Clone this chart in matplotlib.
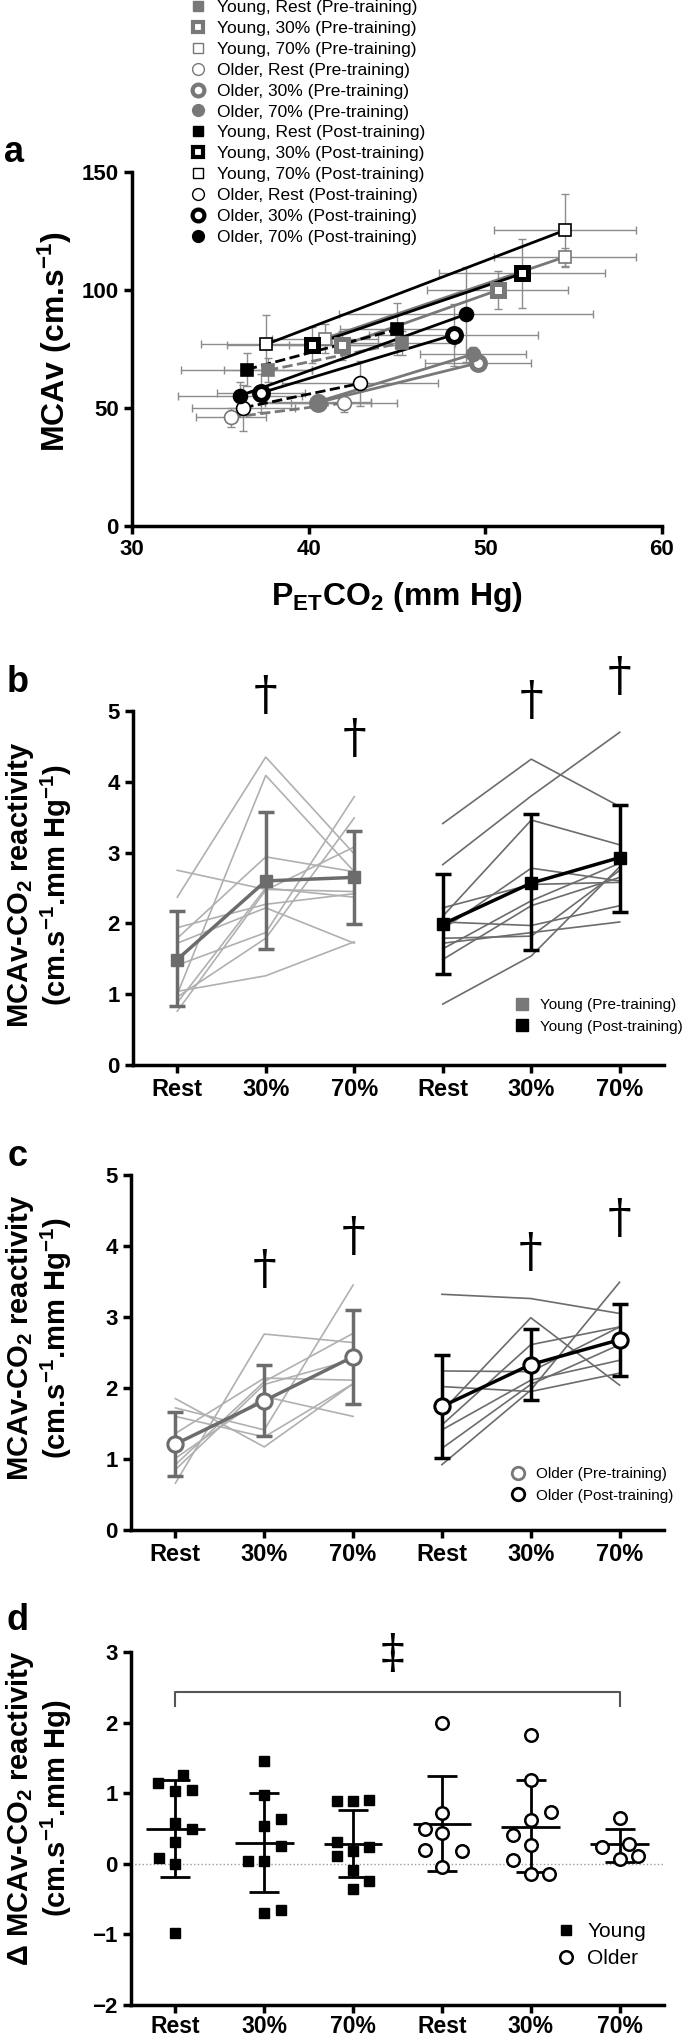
import numpy as np
import matplotlib.pyplot as plt
from matplotlib.lines import Line2D

plt.rcParams['font.family'] = ['Liberation Sans', 'DejaVu Sans']
plt.rcParams['mathtext.default'] = 'regular'

W, H = 697, 2039

# ---------------- data: panel a (MCAv vs PETCO2) ----------------
a_labels = ['Young, Rest (Pre-training)', 'Young, 30% (Pre-training)', 'Young, 70% (Pre-training)',
            'Older, Rest (Pre-training)', 'Older, 30% (Pre-training)', 'Older, 70% (Pre-training)',
            'Young, Rest (Post-training)', 'Young, 30% (Post-training)', 'Young, 70% (Post-training)',
            'Older, Rest (Post-training)', 'Older, 30% (Post-training)', 'Older, 70% (Post-training)']
a_x0 = [37.7, 41.9, 40.9, 35.6, 40.5, 40.5, 36.5, 40.2, 37.6, 36.3, 37.3, 36.1]
a_y0 = [66.0, 76.5, 79.4, 46.0, 52.3, 52.6, 66.3, 76.8, 77.0, 50.1, 56.4, 55.2]
a_x1 = [45.3, 50.7, 54.5, 42.0, 49.6, 49.3, 45.0, 52.1, 54.5, 42.9, 48.2, 48.9]
a_y1 = [77.6, 99.9, 114.0, 52.1, 69.1, 72.8, 83.3, 107.0, 125.3, 60.4, 81.0, 89.7]
a_x0err = [2.5, 3.0, 3.0, 2.0, 3.0, 3.0, 3.7, 4.8, 3.7, 2.9, 2.5, 3.5]
a_y0err = [5.0, 6.0, 6.0, 4.0, 3.0, 3.0, 7.0, 7.6, 12.3, 9.7, 8.0, 6.0]
a_x1err = [3.0, 4.0, 4.0, 3.0, 3.0, 3.0, 3.2, 4.7, 4.0, 4.4, 4.8, 7.2]
a_y1err = [5.0, 8.0, 4.0, 4.0, 3.0, 3.0, 11.0, 14.8, 15.4, 9.5, 13.0, 20.0]

# ---------------- data: panels b, c (reactivity) ----------------
cats = ['Rest', '30%', '70%', 'Rest', '30%', '70%']

b_pre_ind = [[2.75, 2.48, 2.45], [2.37, 4.35, 2.98], [1.00, 4.09, 2.73], [1.79, 2.94, 2.73],
             [1.72, 2.22, 1.72], [1.41, 1.87, 3.79], [0.96, 1.79, 3.49], [0.88, 2.50, 2.37],
             [0.76, 2.47, 3.08], [1.04, 1.26, 1.74], [1.94, 2.27, 2.42]]
b_post_ind = [[3.41, 4.32, 3.65], [2.83, 3.80, 4.70], [2.10, 3.46, 3.11], [1.92, 2.78, 2.60],
              [2.02, 1.97, 2.25], [1.72, 1.87, 2.02], [1.64, 2.32, 2.85], [1.79, 1.82, 2.75],
              [1.49, 2.25, 2.65], [0.86, 1.54, 2.80], [2.22, 2.55, 2.58]]
b_pre_mean = [1.49, 2.60, 2.65]
b_pre_lo = [0.83, 1.64, 1.99]
b_pre_hi = [2.17, 3.57, 3.31]
b_post_mean = [1.99, 2.57, 2.93]
b_post_lo = [1.29, 1.62, 2.16]
b_post_hi = [2.70, 3.55, 3.67]
b_dagger_y = [5.2, 4.6, 5.13, 5.48]

c_pre_ind = [[1.85, 1.17, 2.06], [1.72, 1.41, 3.45], [0.66, 2.76, 2.64], [1.36, 2.14, 2.11],
             [1.01, 1.88, 1.60], [0.92, 2.09, 2.77], [1.60, 1.31, 2.06], [0.85, 2.05, 2.40]]
c_post_ind = [[3.32, 3.26, 3.05], [2.24, 2.23, 2.86], [2.02, 1.95, 2.21], [1.67, 2.99, 2.04],
              [1.48, 2.61, 2.86], [1.41, 2.11, 2.39], [0.92, 1.97, 3.49], [1.15, 2.05, 2.61]]
c_pre_mean = [1.21, 1.82, 2.44]
c_pre_lo = [0.76, 1.32, 1.78]
c_pre_hi = [1.66, 2.32, 3.10]
c_post_mean = [1.74, 2.33, 2.68]
c_post_lo = [1.02, 1.83, 2.17]
c_post_hi = [2.47, 2.83, 3.18]
c_dagger_y = [3.65, 4.12, 3.9, 4.38]

# ---------------- data: panel d (change in reactivity) ----------------
d_vals = [[1.15, 1.26, 1.03, 1.05, 0.58, 0.49, 0.31, 0.08, 0.0, -0.98],
          [1.45, 0.98, 0.54, 0.64, 0.25, 0.04, 0.04, -0.69, -0.65],
          [0.89, 0.89, 0.91, 0.31, 0.18, 0.24, 0.11, -0.09, -0.24, -0.35],
          [1.99, 0.72, 0.49, 0.43, 0.19, 0.18, -0.04],
          [1.83, 1.18, 0.73, 0.62, 0.41, 0.27, 0.05, -0.15, -0.15],
          [0.65, 0.24, 0.28, 0.11, 0.07]]
d_offs = [[-0.20, 0.08, 0.0, 0.19, 0.0, 0.19, 0.0, -0.19, 0.0, 0.0],
          [0.0, 0.0, 0.0, 0.19, 0.19, -0.18, 0.0, 0.0, 0.19],
          [-0.18, 0.0, 0.18, -0.18, 0.0, 0.18, -0.18, 0.0, 0.18, 0.0],
          [0.0, 0.0, -0.19, 0.0, -0.19, 0.23, 0.0],
          [0.0, 0.0, 0.23, 0.0, -0.2, 0.0, -0.2, 0.0, 0.21],
          [0.0, -0.2, 0.11, 0.21, 0.0]]
d_mean = [0.50, 0.30, 0.28, 0.57, 0.52, 0.28]
d_lo = [-0.18, -0.40, -0.18, -0.10, -0.12, 0.03]
d_hi = [1.19, 1.00, 0.76, 1.25, 1.18, 0.50]
d_bracket_y = [2.23, 2.44]

GREY = '#787878'
LGREY = '#b0b0b0'
DGREY = '#6c6c6c'

fig = plt.figure(figsize=(W / 100, H / 100), dpi=100)


def add_ax(left, top, right, bottom):
    return fig.add_axes([left / W, 1 - bottom / H, (right - left) / W, (bottom - top) / H])


def style_ax(ax):
    for s in ['top', 'right']:
        ax.spines[s].set_visible(False)
    for s in ['left', 'bottom']:
        ax.spines[s].set_linewidth(2.5)
    ax.tick_params(width=2.5, length=6, labelsize=16, direction='out')
    for lab in ax.get_xticklabels() + ax.get_yticklabels():
        lab.set_fontweight('bold')


def ftext(x, y, s, **kw):
    fig.text(x / W, 1 - y / H, s, ha='center', va='center', fontweight='bold', **kw)


# ---------------- panel a ----------------
axa = add_ax(132, 172, 662, 526)
a_marker = ['s', 's', 's', 'o', 'o', 'o'] * 2
a_color = [GREY] * 6 + ['black'] * 6
a_face = ['c', 'w', 'w', 'w', 'w', 'c'] * 2
a_mew = [1, 3, 1, 1, 3, 1] * 2
a_ls = ['--', '-', '-', '--', '-', '-'] * 2
handles = []
for i in range(12):
    c = a_color[i]
    fc = c if a_face[i] == 'c' else 'white'
    ms = 9 if a_marker[i] == 's' else 10
    axa.errorbar([a_x0[i], a_x1[i]], [a_y0[i], a_y1[i]],
                 xerr=[a_x0err[i], a_x1err[i]], yerr=[a_y0err[i], a_y1err[i]],
                 fmt='none', ecolor='#8c8c8c', elinewidth=1, capsize=3, zorder=1)
    axa.plot([a_x0[i], a_x1[i]], [a_y0[i], a_y1[i]], color=c, lw=2, ls=a_ls[i], zorder=2)
    axa.plot([a_x0[i], a_x1[i]], [a_y0[i], a_y1[i]], ls='none', marker=a_marker[i], ms=ms,
             mfc=fc, mec=c, mew=a_mew[i] * 1.2, zorder=3)
    handles.append(Line2D([], [], ls='none', marker=a_marker[i], ms=ms * 0.85, mfc=fc, mec=c,
                          mew=a_mew[i]))
axa.set_xlim(30, 60)
axa.set_ylim(0, 150)
axa.set_xticks([30, 40, 50, 60])
axa.set_yticks([0, 50, 100, 150])
style_ax(axa)
axa.legend(handles, a_labels, loc='upper left', bbox_to_anchor=(189 / W, 1 - 0 / H),
           bbox_transform=fig.transFigure, frameon=False, fontsize=12.5, handlelength=1,
           handletextpad=0.6, labelspacing=0.33, borderpad=0, borderaxespad=0)
ftext(14, 152, 'a', fontsize=26)
ftext(55, 342, 'MCAv (cm.s$^{-1}$)', fontsize=23, rotation=90)
ftext(397, 597, 'P$_{ET}$CO$_2$ (mm Hg)', fontsize=23)


# ---------------- panels b, c ----------------
def reactivity_panel(ax, pre_ind, post_ind, pre_mean, pre_lo, pre_hi, post_mean, post_lo,
                     post_hi, dag_y, marker, leg_labels, leg_xy):
    xs_pre = np.arange(3)
    xs_post = np.arange(3, 6)
    for row in pre_ind:
        ax.plot(xs_pre, row, color=LGREY, lw=1.2, zorder=1)
    for row in post_ind:
        ax.plot(xs_post, row, color=DGREY, lw=1.2, zorder=1)
    ms = 9 if marker == 's' else 11
    for xs, m, lo, hi, c in [(xs_pre, pre_mean, pre_lo, pre_hi, DGREY),
                             (xs_post, post_mean, post_lo, post_hi, 'black')]:
        m = np.array(m)
        err = [m - np.array(lo), np.array(hi) - m]
        ax.errorbar(xs, m, yerr=err, fmt='none', ecolor=c, elinewidth=2.5, capsize=6,
                    capthick=2.5, zorder=2)
        ax.plot(xs, m, color=c, lw=2.5, zorder=3)
        if marker == 's':
            ax.plot(xs, m, ls='none', marker='s', ms=ms, mfc=c, mec=c, zorder=4)
        else:
            ax.plot(xs, m, ls='none', marker='o', ms=ms, mfc='white', mec=c, mew=2.2, zorder=4)
    for x, y in zip([1, 2, 4, 5], dag_y):
        ax.text(x, y, '\u2020', ha='center', va='center', fontsize=34,
                fontfamily='DejaVu Serif', clip_on=False)
    ax.set_xlim(-0.5, 5.5)
    ax.set_ylim(0, 5)
    ax.set_yticks(range(6))
    ax.set_xticks(range(6), cats)
    style_ax(ax)
    ax.tick_params(axis='x', labelsize=17)
    if marker == 's':
        hs = [Line2D([], [], ls='none', marker='s', ms=8, mfc=c, mec=c) for c in [GREY, 'black']]
    else:
        hs = [Line2D([], [], ls='none', marker='o', ms=9, mfc='white', mec=c, mew=2)
              for c in [GREY, 'black']]
    ax.legend(hs, leg_labels, loc='upper left', bbox_to_anchor=(leg_xy[0] / W, 1 - leg_xy[1] / H),
              bbox_transform=fig.transFigure, frameon=False, fontsize=11, handlelength=0.8,
              handletextpad=0.8, labelspacing=0.5, borderpad=0, borderaxespad=0)


axb = add_ax(133, 711, 664, 1065)
reactivity_panel(axb, b_pre_ind, b_post_ind, b_pre_mean, b_pre_lo, b_pre_hi, b_post_mean,
                 b_post_lo, b_post_hi, b_dagger_y, 's',
                 ['Young (Pre-training)', 'Young (Post-training)'], (516, 998))
ftext(18, 683, 'b', fontsize=26)
ftext(20, 885, 'MCAv-CO$_2$ reactivity', fontsize=21, rotation=90)
ftext(56, 885, '(cm.s$^{-1}$.mm Hg$^{-1}$)', fontsize=21, rotation=90)

axc = add_ax(131, 1175, 664, 1530)
reactivity_panel(axc, c_pre_ind, c_post_ind, c_pre_mean, c_pre_lo, c_pre_hi, c_post_mean,
                 c_post_lo, c_post_hi, c_dagger_y, 'o',
                 ['Older (Pre-training)', 'Older (Post-training)'], (512, 1467))
ftext(18, 1157, 'c', fontsize=26)
ftext(20, 1338, 'MCAv-CO$_2$ reactivity', fontsize=21, rotation=90)
ftext(56, 1338, '(cm.s$^{-1}$.mm Hg$^{-1}$)', fontsize=21, rotation=90)

# ---------------- panel d ----------------
axd = add_ax(131, 1652, 664, 2005)
axd.axhline(0, color='#9a9a9a', ls=':', lw=1, zorder=0)
for i in range(6):
    xs = i + np.array(d_offs[i])
    if i < 3:
        axd.plot(xs, d_vals[i], ls='none', marker='s', ms=7, mfc='black', mec='black', zorder=3)
    else:
        axd.plot(xs, d_vals[i], ls='none', marker='o', ms=9, mfc='white', mec='black', mew=1.8,
                 zorder=3)
    axd.hlines(d_mean[i], i - 0.33, i + 0.33, color='black', lw=2, zorder=2)
    axd.errorbar(i, d_mean[i], yerr=[[d_mean[i] - d_lo[i]], [d_hi[i] - d_mean[i]]], fmt='none',
                 ecolor='black', elinewidth=2, capsize=11, capthick=2, zorder=2)
axd.plot([0, 0, 5, 5], [d_bracket_y[0], d_bracket_y[1], d_bracket_y[1], d_bracket_y[0]],
         color='#555555', lw=1.5, clip_on=False)
axd.text(2.44, 2.97, '\u2021', ha='center', va='center', fontsize=34, fontfamily='DejaVu Serif',
         clip_on=False)
axd.set_xlim(-0.5, 5.5)
axd.set_ylim(-2, 3)
axd.set_yticks(range(-2, 4))
axd.set_xticks(range(6), cats)
style_ax(axd)
axd.tick_params(axis='x', labelsize=16.5, pad=1)
hd = [Line2D([], [], ls='none', marker='s', ms=7, mfc='black', mec='black'),
      Line2D([], [], ls='none', marker='o', ms=9, mfc='white', mec='black', mew=1.8)]
axd.legend(hd, ['Young', 'Older'], loc='upper left', bbox_to_anchor=(558 / W, 1 - 1922 / H),
           bbox_transform=fig.transFigure, frameon=False, fontsize=15, handlelength=0.8,
           handletextpad=0.6, labelspacing=0.4, borderpad=0, borderaxespad=0)
ftext(18, 1620, 'd', fontsize=26)
ftext(20, 1808, '\u0394 MCAv-CO$_2$ reactivity', fontsize=21, rotation=90)
ftext(56, 1808, '(cm.s$^{-1}$.mm Hg)', fontsize=21, rotation=90)

plt.savefig('out.png', dpi=100)
